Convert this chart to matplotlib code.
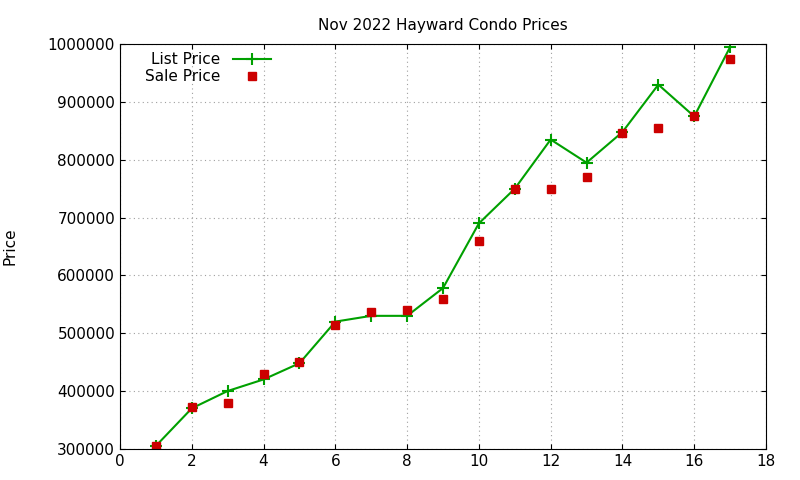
import matplotlib
matplotlib.use("Agg")
import matplotlib.pyplot as plt

x = list(range(1, 18))
list_price = [305000, 370000, 400000, 420000, 448000, 520000, 530000, 530000, 578000,
              690000, 750000, 835000, 795000, 848000, 930000, 875000, 995000]
sale_price = [305000, 372000, 380000, 430000, 450000, 515000, 537000, 540000, 560000,
              660000, 750000, 750000, 770000, 846000, 855000, 875000, 975000]

fig = plt.figure(figsize=(8, 4.8), dpi=100)
ax = fig.add_axes([0.15, 0.065, 0.8075, 0.843])
ax.plot(x, list_price, color="#00a000", marker="+", markersize=8, mew=1.5, lw=1.5, label="List Price")
ax.plot(x, sale_price, ls="none", marker="s", color="#cc0000", markersize=6, label="Sale Price")
ax.set_xlim(0, 18)
ax.set_ylim(300000, 1000000)
ax.set_xticks(range(0, 19, 2))
ax.set_yticks(range(300000, 1000001, 100000))
ax.ticklabel_format(style="plain", axis="y")
ax.grid(True, color="#a0a0a0", ls=(0, (1, 3)), lw=0.8)
ax.tick_params(direction="in", labelsize=11, top=True, right=True)
ax.set_title("Nov 2022 Hayward Condo Prices", fontsize=11, pad=10)
ax.set_ylabel("Price", fontsize=11, labelpad=22)
ax.legend(loc="upper left", bbox_to_anchor=(0.02, 1.01), frameon=False, fontsize=11,
          markerfirst=False, handlelength=2.5, borderpad=0.3, labelspacing=0.1)
fig.savefig("out.png")
